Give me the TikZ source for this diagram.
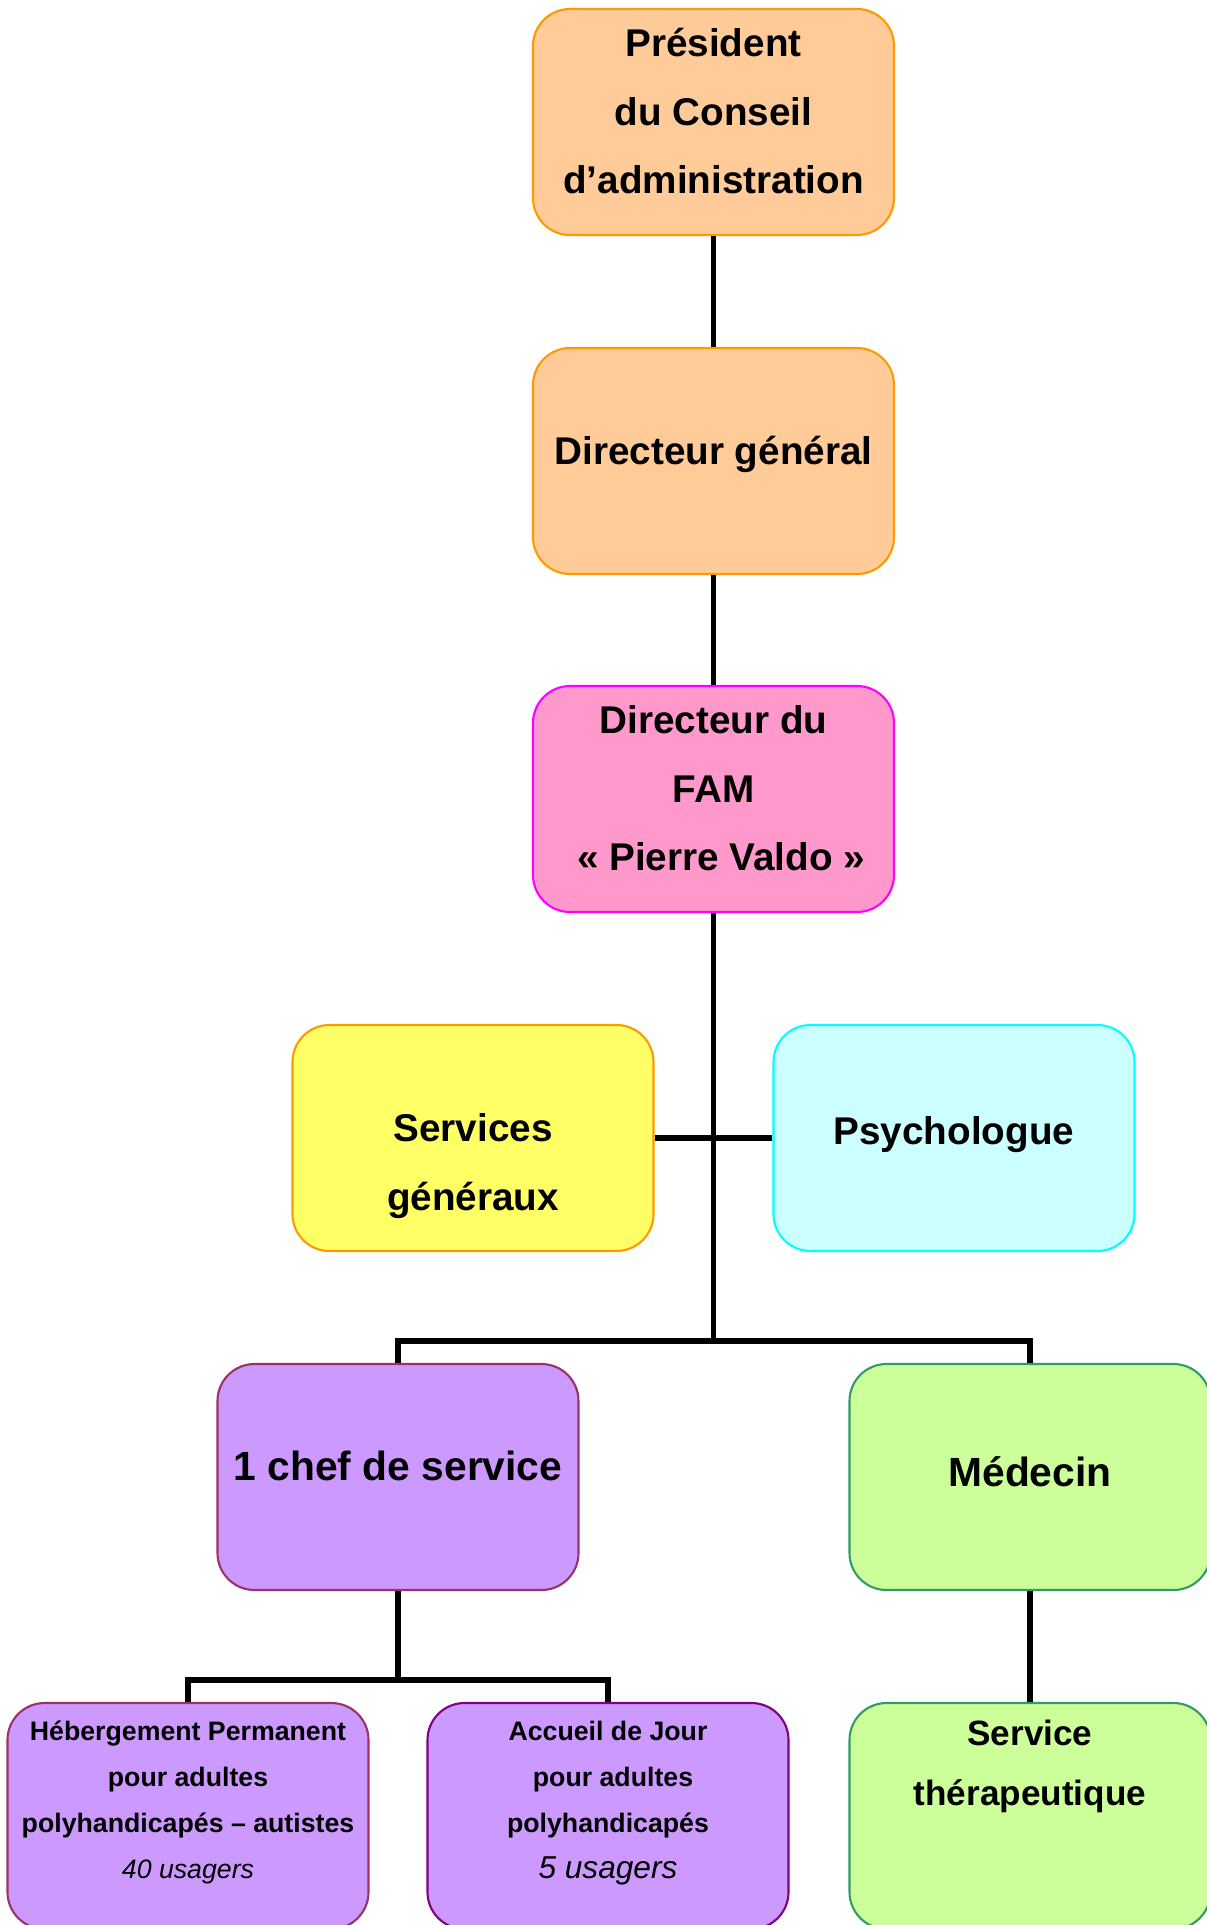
\documentclass[tikz,border=0pt]{standalone}
\usepackage{fontspec}
\setmainfont{Liberation Sans}
\definecolor{peach}{HTML}{FFCC99}
\definecolor{orangeline}{HTML}{FF9900}
\definecolor{pinkfill}{HTML}{FF99CC}
\definecolor{magline}{HTML}{FF00FF}
\definecolor{yellowfill}{HTML}{FFFF66}
\definecolor{cyanfill}{HTML}{CCFFFF}
\definecolor{cyanline}{HTML}{00FFFF}
\definecolor{lilac}{HTML}{CC99FF}
\definecolor{plumline}{HTML}{993366}
\definecolor{purpleline}{HTML}{800080}
\definecolor{lime}{HTML}{CCFF99}
\definecolor{greenline}{HTML}{339966}
\tikzset{
  box/.style={draw, rounded corners=0.37cm, minimum width=3.61cm,
    minimum height=2.26cm, align=center, line width=0.6pt, text depth=0.22cm,
    font=\fontsize{11}{19.5}\selectfont\bfseries},
  smallbox/.style={box, text depth=0.33cm,
    font=\fontsize{7.6}{13.1}\selectfont\bfseries},
  conn/.style={line width=1.6pt},
}
\begin{document}
\begin{tikzpicture}
  \useasboundingbox (0,0) rectangle (12.07,-19.25);
  % direction
  \node[box, fill=peach, draw=orangeline] (pres) at (7.135,-1.22)
    {Président\\du Conseil\\d’administration};
  \node[box, fill=peach, draw=orangeline] (dg) at (7.135,-4.61)
    {Directeur général};
  \node[box, fill=pinkfill, draw=magline] (fam) at (7.135,-7.99)
    {Directeur du\\FAM\\\hspace{0.15cm}« Pierre Valdo »};
  \node[box, fill=yellowfill, draw=orangeline, text height=1.52cm, text depth=0.08cm]
    (sg) at (4.73,-11.38) {Services\\généraux};
  \node[box, fill=cyanfill, draw=cyanline, text depth=0.15cm] (psy) at (9.54,-11.38)
    {Psychologue};
  % services
  \node[box, fill=lilac, draw=plumline, font=\fontsize{11.6}{19.5}\selectfont\bfseries]
    (chef) at (3.98,-14.77) {1 chef de service};
  \node[box, fill=lime, draw=greenline, text depth=0.1cm,
    font=\fontsize{11.6}{19.5}\selectfont\bfseries] (med) at (10.30,-14.77) {Médecin};
  \node[smallbox, fill=lilac, draw=plumline] (heb) at (1.88,-18.16)
    {Hébergement Permanent\\pour adultes\\polyhandicapés – autistes\\
     {\mdseries\itshape 40 usagers}};
  \node[smallbox, fill=lilac, draw=purpleline] (acc) at (6.08,-18.16)
    {Accueil de Jour\\\hspace{0.1cm}pour adultes\\polyhandicapés\\
     {\fontsize{9}{13.1}\selectfont\mdseries\itshape 5 usagers}};
  \node[box, fill=lime, draw=greenline, text depth=1.07cm,
    font=\fontsize{10}{17}\selectfont\bfseries] (ther) at (10.30,-18.16)
    {Service\\thérapeutique};
  % liens
  \coordinate (bus) at (7.135,-13.41);
  \coordinate (sub) at (3.98,-16.80);
  \draw[conn] (pres) -- (dg);
  \draw[conn] (dg) -- (fam);
  \draw[conn] (fam) -- (bus);
  \draw[conn] (sg.east) -- (psy.west);
  \draw[conn] (chef.north) |- (bus) -| (med.north);
  \draw[conn] (chef) -- (sub);
  \draw[conn] (heb.north) |- (sub) -| (acc.north);
  \draw[conn] (med) -- (ther);
\end{tikzpicture}
\end{document}
